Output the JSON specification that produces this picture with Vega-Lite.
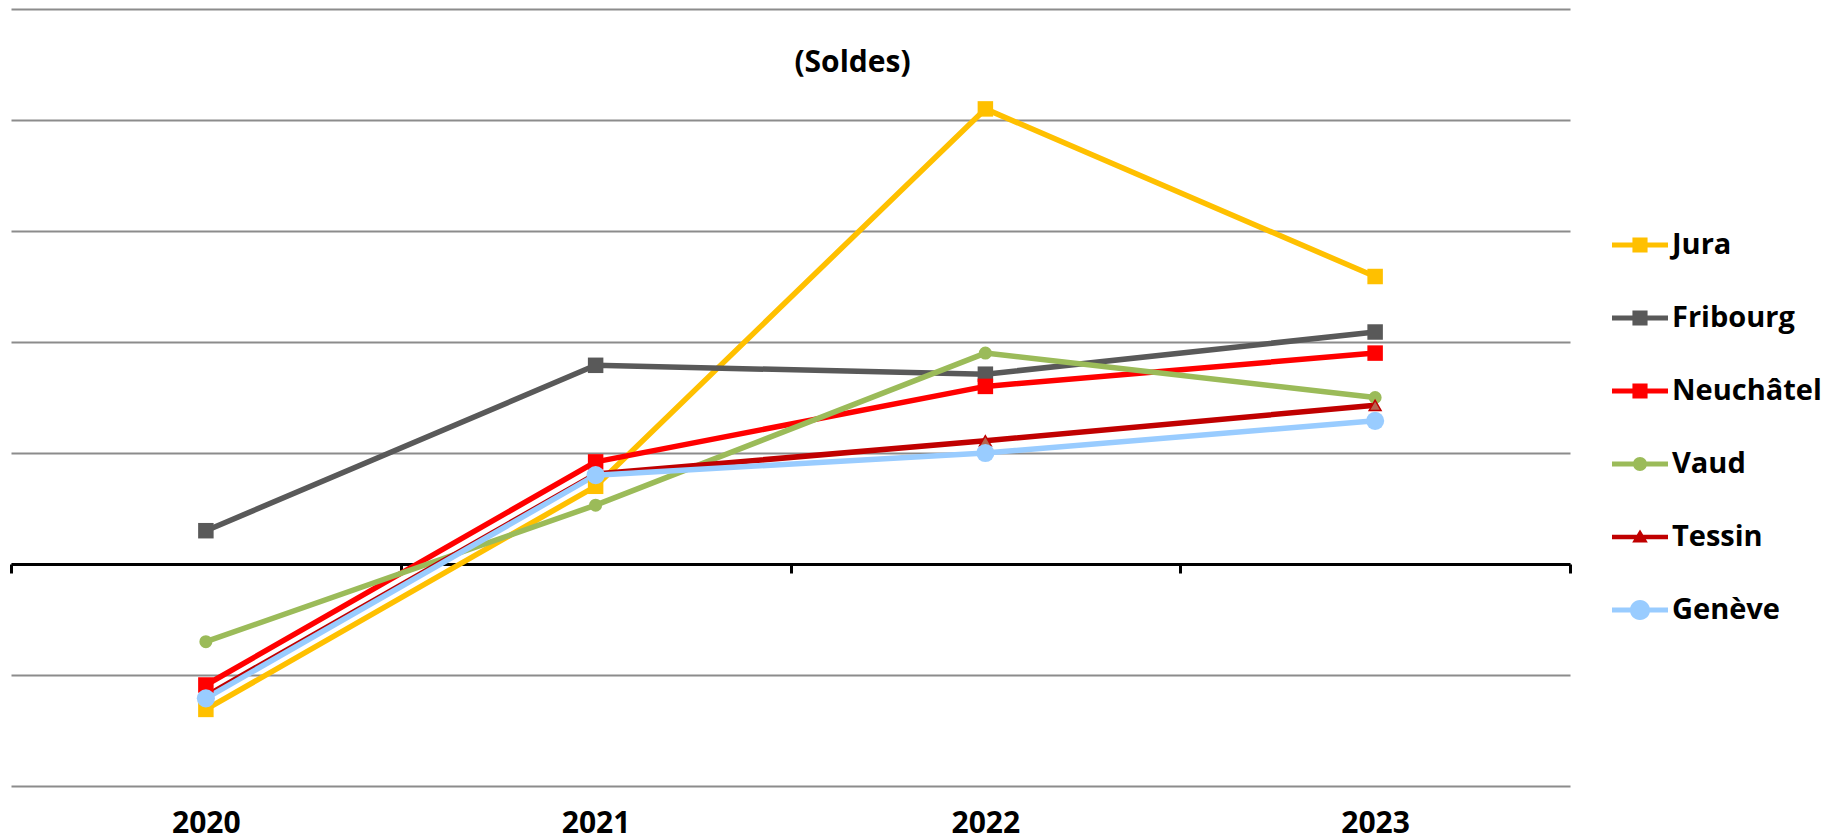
{
  "$schema": "https://vega.github.io/schema/vega-lite/v6.json",
  "width": 1559,
  "height": 777,
  "autosize": {"type": "none"},
  "padding": {"left": 11, "top": 9, "right": 252, "bottom": 54},
  "background": "white",
  "config": {
    "view": {"stroke": null},
    "font": "Open Sans"
  },
  "title": {
    "text": "(Soldes)",
    "font": "Open Sans",
    "fontSize": 30,
    "fontWeight": "bold",
    "color": "black",
    "anchor": "middle",
    "frame": "group",
    "orient": "top",
    "offset": 0,
    "baseline": "middle",
    "dy": 84,
    "dx": 62
  },
  "data": {
    "values": [
      {"series": "Jura", "year": "2020", "value": -1.31},
      {"series": "Jura", "year": "2021", "value": 0.70},
      {"series": "Jura", "year": "2022", "value": 4.10},
      {"series": "Jura", "year": "2023", "value": 2.59},
      {"series": "Fribourg", "year": "2020", "value": 0.30},
      {"series": "Fribourg", "year": "2021", "value": 1.79},
      {"series": "Fribourg", "year": "2022", "value": 1.71},
      {"series": "Fribourg", "year": "2023", "value": 2.09},
      {"series": "Neuchâtel", "year": "2020", "value": -1.09},
      {"series": "Neuchâtel", "year": "2021", "value": 0.92},
      {"series": "Neuchâtel", "year": "2022", "value": 1.60},
      {"series": "Neuchâtel", "year": "2023", "value": 1.90},
      {"series": "Vaud", "year": "2020", "value": -0.70},
      {"series": "Vaud", "year": "2021", "value": 0.53},
      {"series": "Vaud", "year": "2022", "value": 1.90},
      {"series": "Vaud", "year": "2023", "value": 1.50},
      {"series": "Tessin", "year": "2020", "value": -1.19},
      {"series": "Tessin", "year": "2021", "value": 0.81},
      {"series": "Tessin", "year": "2022", "value": 1.11},
      {"series": "Tessin", "year": "2023", "value": 1.43},
      {"series": "Genève", "year": "2020", "value": -1.21},
      {"series": "Genève", "year": "2021", "value": 0.80},
      {"series": "Genève", "year": "2022", "value": 1.00},
      {"series": "Genève", "year": "2023", "value": 1.29}
    ]
  },
  "encoding": {
    "x": {
      "field": "year",
      "type": "ordinal",
      "sort": ["2020", "2021", "2022", "2023"],
      "scale": {"type": "band", "paddingInner": 0, "paddingOuter": 0},
      "axis": {
        "title": null,
        "orient": "bottom",
        "offset": -222,
        "domainColor": "black",
        "domainWidth": 3,
        "tickColor": "black",
        "tickWidth": 3,
        "tickSize": 9,
        "tickBand": "extent",
        "labelAngle": 0,
        "labelFont": "Open Sans",
        "labelFontSize": 30,
        "labelFontWeight": "bold",
        "labelColor": "black",
        "labelBaseline": "middle",
        "labelPadding": 250,
        "grid": false
      }
    },
    "y": {
      "field": "value",
      "type": "quantitative",
      "scale": {"domain": [-2, 5], "nice": false, "zero": false},
      "axis": {
        "title": null,
        "values": [-2, -1, 0, 1, 2, 3, 4, 5],
        "domain": false,
        "ticks": false,
        "labels": false,
        "grid": true,
        "gridColor": "#8c8c8c",
        "gridWidth": 2
      }
    }
  },
  "resolve": {"legend": {"color": "independent", "shape": "independent"}},
  "layer": [
    {
      "mark": {"type": "line", "strokeWidth": 5.5, "strokeJoin": "round", "strokeCap": "butt"},
      "encoding": {
        "color": {
          "field": "series",
          "type": "nominal",
          "scale": {
            "domain": ["Jura", "Fribourg", "Neuchâtel", "Vaud", "Tessin", "Genève"],
            "range": ["#FFC000", "#595959", "#FF0000", "#9BBB59", "#C00000", "#99CCFF"]
          },
          "legend": null
        }
      }
    },
    {
      "transform": [{"filter": "datum.series === 'Jura' || datum.series === 'Fribourg' || datum.series === 'Neuchâtel'"}],
      "mark": {"type": "point", "shape": "square", "filled": true, "opacity": 1, "size": 240},
      "encoding": {"color": {"field": "series", "type": "nominal", "legend": null}}
    },
    {
      "transform": [{"filter": "datum.series === 'Vaud'"}],
      "mark": {"type": "point", "shape": "circle", "filled": true, "opacity": 1, "size": 170},
      "encoding": {"color": {"field": "series", "type": "nominal", "legend": null}}
    },
    {
      "transform": [{"filter": "datum.series === 'Tessin'"}],
      "mark": {"type": "point", "shape": "triangle-up", "filled": true, "opacity": 1, "size": 140, "fill": "#B5654F", "stroke": "#C00000", "strokeWidth": 1.5}
    },
    {
      "transform": [{"filter": "datum.series === 'Genève'"}],
      "mark": {"type": "point", "shape": "circle", "filled": true, "opacity": 1, "size": 330},
      "encoding": {"color": {"field": "series", "type": "nominal", "legend": null}}
    },
    {
      "transform": [{"filter": "datum.value > 100"}],
      "mark": {"type": "point", "filled": true},
      "encoding": {
        "color": {
          "field": "series",
          "type": "nominal",
          "legend": {
            "title": null,
            "orient": "none",
            "legendX": 1601,
            "legendY": 208,
            "padding": 0,
            "symbolSize": 3136,
            "symbolStrokeWidth": 0,
            "symbolOpacity": 1,
            "rowPadding": 30,
            "labelOffset": 4,
            "labelFont": "Open Sans",
            "labelFontSize": 29,
            "labelFontWeight": "bold",
            "labelColor": "black",
            "labelLimit": 300
          }
        },
        "shape": {
          "field": "series",
          "type": "nominal",
          "scale": {
            "domain": ["Jura", "Fribourg", "Neuchâtel", "Vaud", "Tessin", "Genève"],
            "range": [
              "M-1,-0.09H1V0.09H-1Z M-0.27,-0.27H0.27V0.27H-0.27Z",
              "M-1,-0.09H1V0.09H-1Z M-0.27,-0.27H0.27V0.27H-0.27Z",
              "M-1,-0.09H1V0.09H-1Z M-0.27,-0.27H0.27V0.27H-0.27Z",
              "M-1,-0.09H1V0.09H-1Z M-0.25,0 A0.25,0.25 0 1,1 0.25,0 A0.25,0.25 0 1,1 -0.25,0 Z",
              "M-1,-0.08H1V0.08H-1Z M0,-0.27 L0.28,0.2 L-0.28,0.2 Z",
              "M-1,-0.09H1V0.09H-1Z M-0.36,0 A0.36,0.36 0 1,1 0.36,0 A0.36,0.36 0 1,1 -0.36,0 Z"
            ]
          },
          "legend": {
            "title": null,
            "orient": "none",
            "legendX": 1601,
            "legendY": 208,
            "padding": 0,
            "symbolSize": 3136,
            "symbolStrokeWidth": 0,
            "symbolOpacity": 1,
            "rowPadding": 30,
            "labelOffset": 4,
            "labelFont": "Open Sans",
            "labelFontSize": 29,
            "labelFontWeight": "bold",
            "labelColor": "black",
            "labelLimit": 300
          }
        }
      }
    }
  ]
}
